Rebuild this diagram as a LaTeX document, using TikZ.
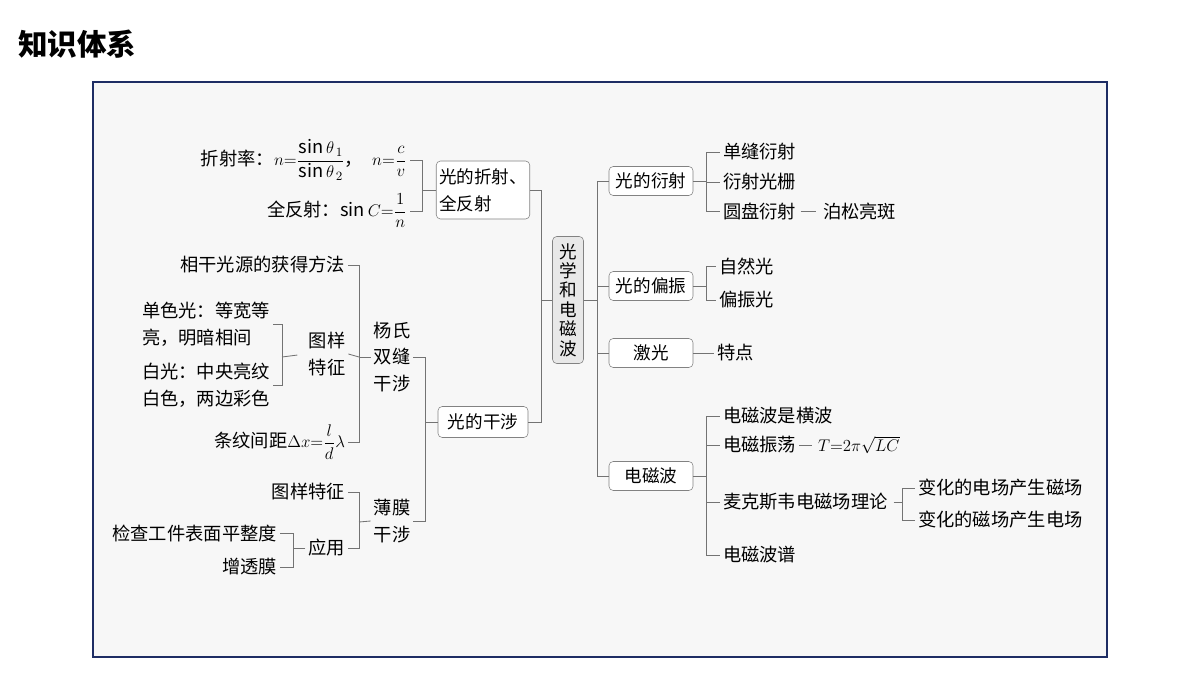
\documentclass[tikz,border=0pt]{standalone}
\usepackage{amsmath}
\usepackage{fontspec}
\setmainfont{Noto Sans CJK SC}
\usepackage{tikz}
\definecolor{linegray}{RGB}{115,115,115}
\definecolor{boxgray}{RGB}{130,130,130}
\definecolor{hubfill}{RGB}{232,232,232}
\definecolor{panel}{RGB}{247,247,247}
\definecolor{framenavy}{RGB}{30,45,100}
\tikzstyle{topic}=[draw=boxgray, fill=white
,rounded corners=3pt
,minimum height=0.725cm
,inner sep=2pt
,font=\fontsize{12.5}{19}\selectfont
]
\tikzstyle{hub}=[topic, fill=hubfill, align=center
,minimum width=0.775cm, minimum height=3.175cm
,font=\fontsize{12.5}{13.8}\selectfont
]
\tikzstyle{leaf}=[inner sep=2pt, align=left]
\tikzstyle{edge} = [draw, linegray, line width=0.6pt]

\begin{document}
\begin{tikzpicture}[x=0.025cm, y=-0.025cm, font=\fontsize{13}{19}\selectfont]
    \useasboundingbox (0,0) rectangle (1200,675);
    % Title and panel
    \node[anchor=west, inner sep=0pt, font=\fontsize{21}{21}\selectfont\bfseries] (title) at (18,44) {知识体系};
    \path[draw=framenavy, fill=panel, line width=0.8pt] (93,82) rectangle (1107,657);
    % The centre and the first level
    \node[hub] (optics) at (568,300) {光\\学\\和\\电\\磁\\波};
    \foreach \pos/\name/\txt in {{(651,181)/diffr/光的衍射}, {(651,286)/polar/光的偏振},
        {(651,353)/laser/激光}, {(651,476)/emwave/电磁波}}
        \node[topic, minimum width=2.1cm] (\name) at \pos {\txt};
    \node[topic, minimum width=2.25cm, minimum height=1.45cm, align=left] (refr) at (483,190) {光的折射、\\全反射};
    \node[topic, minimum width=2.25cm, minimum height=0.775cm] (interf) at (483,422) {光的干涉};
    \coordinate (rj) at (597,300);
    \coordinate (lj) at (541,300);
    \path[edge] (optics.east) -- (rj);
    \path[edge] (optics.west) -- (lj);
    \foreach \dest in {diffr, polar, laser, emwave}
        \path[edge] (rj) |- (\dest.west);
    \foreach \dest in {refr, interf}
        \path[edge] (lj) |- (\dest.east);
    % Refraction
    \node[leaf, anchor=east] (nrate) at (410,160) {折射率：$n{=}\dfrac{\sin\theta_{\,1}}{\sin\theta_{\,2}}$，\enspace$n{=}\dfrac{c}{v}$};
    \node[leaf, anchor=east] (total) at (410,211) {全反射：$\sin C{=}\dfrac{1}{n}$};
    \coordinate (zj) at (422,190);
    \path[edge] (refr.west) -- (zj);
    \foreach \dest in {nrate, total}
        \path[edge] (zj) |- (\dest.east);
    % Interference
    \node[leaf, align=center] (young) at (392,357) {杨氏\\双缝\\干涉};
    \node[leaf, align=center] (film) at (392,521) {薄膜\\干涉};
    \coordinate (ij) at (425,422);
    \path[edge] (interf.west) -- (ij);
    \foreach \dest in {young, film}
        \path[edge] (ij) |- (\dest.east);
    \node[leaf, anchor=east] (coherent) at (348,265) {相干光源的获得方法};
    \node[leaf, align=center] (pattern) at (327,354) {图样\\特征};
    \node[leaf, anchor=east] (fringe) at (348,442) {条纹间距$\Delta x{=}\dfrac{l}{d}\lambda$};
    \coordinate (yj) at (359,357);
    \path[edge] (young.west) -- (yj);
    \foreach \dest in {coherent, fringe}
        \path[edge] (yj) |- (\dest.east);
    \path[edge] (yj) -- (pattern.east);
    \node[leaf, anchor=west] (mono) at (139,324) {单色光：等宽等\\亮，明暗相间};
    \node[leaf, anchor=west] (white) at (139,385) {白光：中央亮纹\\白色，两边彩色};
    \coordinate (pj) at (282,357);
    \path[edge, shorten <=6pt] (pattern.west) -- (pj);
    \foreach \dest in {mono, white}
        \path[edge] (pj) |- (\dest.east);
    \node[leaf, anchor=east] (fpattern) at (348,492) {图样特征};
    \node[leaf, anchor=east] (apply) at (348,548) {应用};
    \coordinate (fj) at (359,522);
    \path[edge] (film.west) -- (fj);
    \foreach \dest in {fpattern, apply}
        \path[edge] (fj) |- (\dest.east);
    \node[leaf, anchor=east] (check) at (280,533) {检查工件表面平整度};
    \node[leaf, anchor=east] (antirefl) at (280,567) {增透膜};
    \coordinate (aj) at (293,548);
    \path[edge] (apply.west) -- (aj);
    \foreach \dest in {check, antirefl}
        \path[edge] (aj) |- (\dest.east);
    % Diffraction, polarization, laser
    \foreach \pos/\name/\txt in {{(720,152)/single/单缝衍射}, {(720,182)/grating/衍射光栅},
        {(720,211)/disk/圆盘衍射}, {(716,266)/natural/自然光}, {(716,300)/polarized/偏振光},
        {(714,353)/feature/特点}, {(820,211)/poisson/泊松亮斑}}
        \node[leaf, anchor=west] (\name) at \pos {\txt};
    \coordinate (dj) at (706,181);
    \coordinate (oj) at (706,286);
    \path[edge] (diffr.east) -- (dj);
    \path[edge] (polar.east) -- (oj);
    \foreach \dest in {single, grating, disk}
        \path[edge] (dj) |- (\dest.west);
    \foreach \dest in {natural, polarized}
        \path[edge] (oj) |- (\dest.west);
    \path[edge, shorten <=1pt, shorten >=3pt] (disk.east) -- (poisson.west);
    \path[edge] (laser.east) -- (feature.west);
    % Electromagnetic waves
    \foreach \pos/\name/\txt in {{(720,416)/transverse/电磁波是横波}, {(720,445)/oscill/电磁振荡},
        {(720,502)/maxwell/麦克斯韦电磁场理论}, {(720,555)/spectrum/电磁波谱},
        {(915,488)/efield/变化的电场产生磁场}, {(915,520)/bfield/变化的磁场产生电场}}
        \node[leaf, anchor=west] (\name) at \pos {\txt};
    \node[leaf, anchor=west] (period) at (815,445) {$T{=}2\pi\sqrt{LC}$};
    \coordinate (ej) at (706,476);
    \path[edge] (emwave.east) -- (ej);
    \foreach \dest in {transverse, oscill, maxwell, spectrum}
        \path[edge] (ej) |- (\dest.west);
    \path[edge, shorten >=2pt] (oscill.east) -- (period.west);
    \coordinate (mj) at (902,502);
    \path[edge, shorten <=2pt] (maxwell.east) -- (mj);
    \foreach \dest in {efield, bfield}
        \path[edge] (mj) |- (\dest.west);
\end{tikzpicture}
\end{document}
